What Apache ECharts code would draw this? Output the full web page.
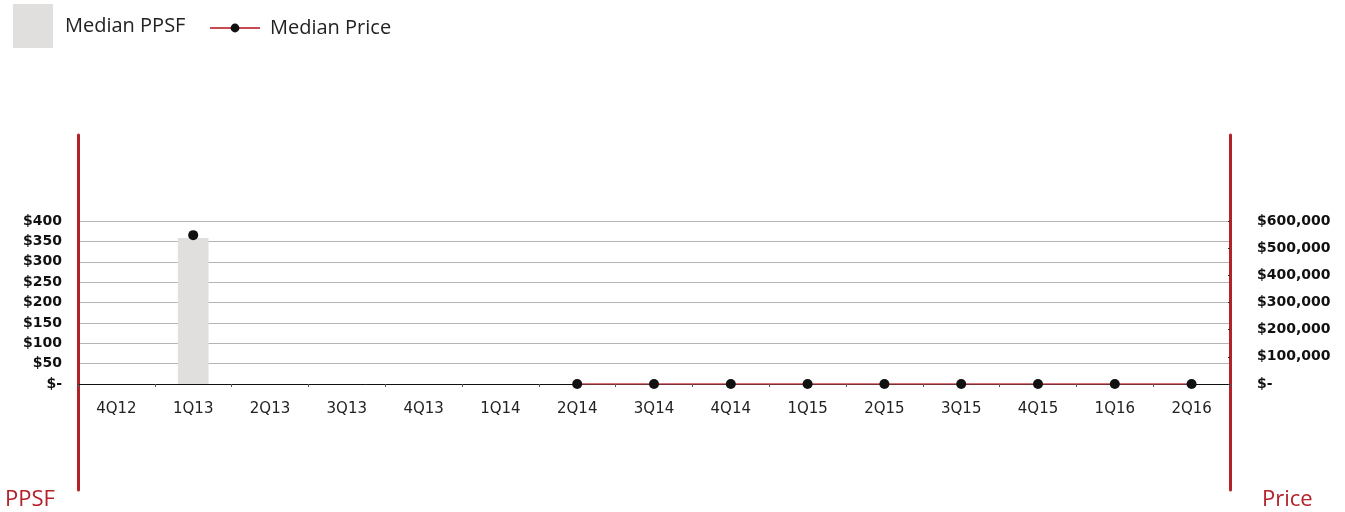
<!DOCTYPE html>
<html>
<head>
<meta charset="utf-8">
<script src="https://cdn.jsdelivr.net/npm/echarts@6/dist/echarts.min.js"></script>
<style>
  html, body { margin: 0; padding: 0; background: #fff; }
  #chart { width: 1345px; height: 512px; }
</style>
</head>
<body>
<div id="chart"></div>
<script>
// Quarterly market data
const quarters = ['4Q12', '1Q13', '2Q13', '3Q13', '4Q13', '1Q14', '2Q14', '3Q14', '4Q14', '1Q15', '2Q15', '3Q15', '4Q15', '1Q16', '2Q16'];
const medianPPSF = [null, 358, null, null, null, null, 0, 0, 0, 0, 0, 0, 0, 0, 0];
const medianPrice = [null, 548000, null, null, null, null, 0, 0, 0, 0, 0, 0, 0, 0, 0];

const RED = '#b3222a';
const FONT = '"Open Sans", "Noto Sans", sans-serif';
const TICK_FONT = '"DejaVu Sans", sans-serif';

function dollars(v) {
  if (v === 0) return '$-';
  return '$' + v.toLocaleString('en-US');
}

const chart = echarts.init(document.getElementById('chart'), null, { renderer: 'canvas' });

chart.setOption({
  animation: false,
  textStyle: { fontFamily: FONT },
  legend: [
    {
      data: [{ name: 'Median PPSF', icon: 'rect' }],
      left: 13, top: 4, padding: 0,
      itemWidth: 40, itemHeight: 44,
      textStyle: { fontSize: 20, color: '#222', fontFamily: FONT, padding: [8, 0, 0, 7] }
    },
    {
      data: ['Median Price'],
      left: 209, top: 18, padding: 0,
      itemWidth: 50, itemHeight: 11,
      textStyle: { fontSize: 20, color: '#222', fontFamily: FONT, padding: [2, 0, 0, 5] }
    }
  ],
  grid: [
    { left: 78, right: 115, top: 221, bottom: 128 },
    { left: 78, right: 115, top: 135, bottom: 22 }
  ],
  xAxis: [
    {
      type: 'category',
      gridIndex: 0,
      data: quarters,
      boundaryGap: true,
      axisLine: { lineStyle: { color: '#111', width: 1 } },
      axisTick: { show: true, length: 3, lineStyle: { color: '#555' } },
      axisLabel: { color: '#222', fontSize: 15, margin: 18, fontFamily: TICK_FONT }
    },
    {
      type: 'category',
      gridIndex: 1,
      data: quarters,
      show: false
    }
  ],
  yAxis: [
    {
      type: 'value',
      gridIndex: 0,
      min: 0, max: 400, interval: 50,
      axisLine: { show: false },
      axisTick: { show: false },
      splitLine: { lineStyle: { color: '#b4b4b4', width: 1 } },
      axisLabel: {
        formatter: dollars,
        color: '#111', fontSize: 14, fontWeight: 'bold', margin: 16, fontFamily: TICK_FONT
      }
    },
    {
      type: 'value',
      gridIndex: 0,
      position: 'right',
      min: 0, max: 600000, interval: 100000,
      axisLine: { show: false },
      axisTick: { show: true, inside: true, length: 2, lineStyle: { color: '#333' } },
      splitLine: { show: false },
      axisLabel: {
        formatter: dollars,
        color: '#111', fontSize: 14, fontWeight: 'bold', margin: 27, fontFamily: TICK_FONT
      }
    },
    {
      type: 'value',
      gridIndex: 1,
      position: 'left',
      axisLine: { show: true, lineStyle: { color: RED, width: 3 } },
      axisTick: { show: false },
      axisLabel: { show: false },
      splitLine: { show: false }
    },
    {
      type: 'value',
      gridIndex: 1,
      position: 'right',
      axisLine: { show: true, lineStyle: { color: RED, width: 3 } },
      axisTick: { show: false },
      axisLabel: { show: false },
      splitLine: { show: false }
    }
  ],
  graphic: [
    {
      type: 'text', left: 5, bottom: 1,
      style: { text: 'PPSF', fill: RED, font: '22px ' + FONT }
    },
    {
      type: 'text', left: 1262, bottom: 1,
      style: { text: 'Price', fill: RED, font: '22px ' + FONT }
    }
  ],
  series: [
    {
      name: 'Median PPSF',
      type: 'bar',
      xAxisIndex: 0, yAxisIndex: 0,
      data: medianPPSF,
      barWidth: '40%',
      itemStyle: { color: '#e0dfdd' }
    },
    {
      name: 'Median Price',
      type: 'line',
      xAxisIndex: 0, yAxisIndex: 1,
      data: medianPrice,
      connectNulls: false,
      symbol: 'circle',
      symbolSize: 10,
      lineStyle: { color: '#c84a52', width: 1.5 },
      itemStyle: { color: '#111' },
      z: 5
    }
  ]
});
</script>
</body>
</html>
